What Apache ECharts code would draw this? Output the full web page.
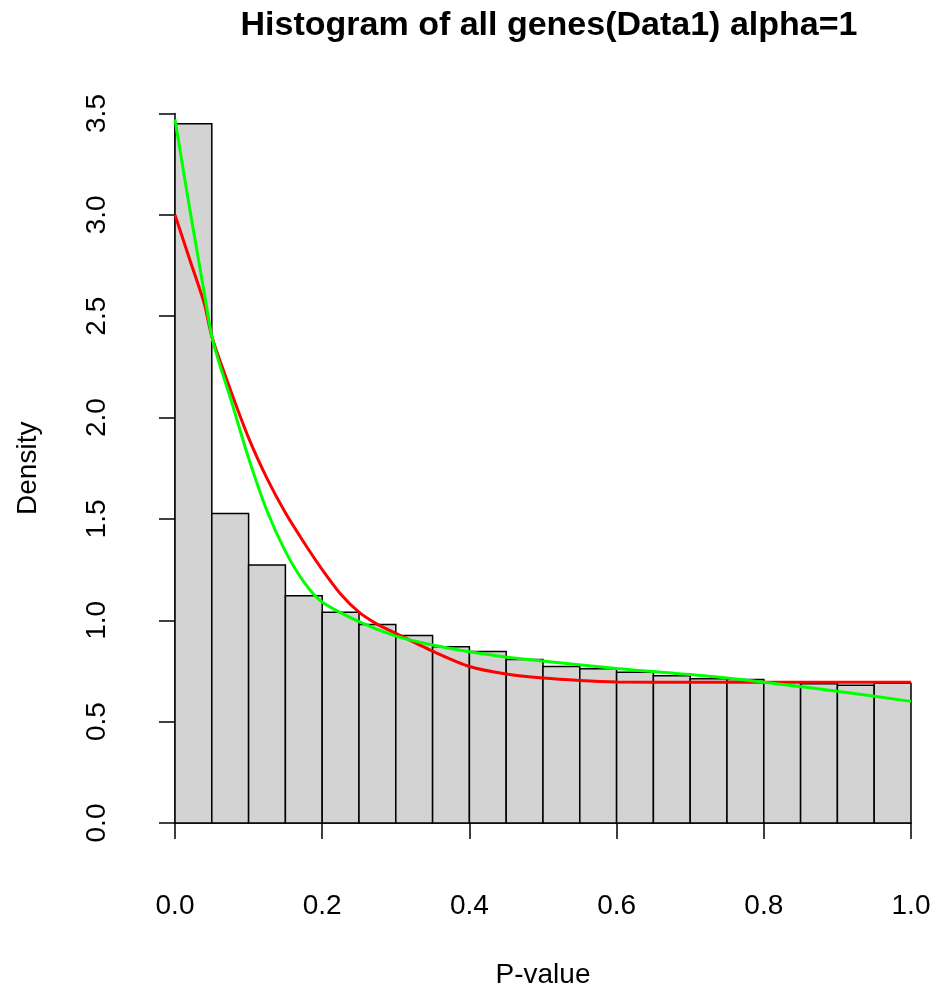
<!DOCTYPE html>
<html>
<head>
<meta charset="utf-8">
<script src="https://cdn.jsdelivr.net/npm/echarts@6/dist/echarts.min.js"></script>
<style>html,body{margin:0;padding:0;background:#fff}#c{width:936px;height:994px}</style>
</head>
<body>
<div id="c"></div>
<script>
const binLeft  = [0.00,0.05,0.10,0.15,0.20,0.25,0.30,0.35,0.40,0.45,0.50,0.55,0.60,0.65,0.70,0.75,0.80,0.85,0.90,0.95];
const binRight = [0.05,0.10,0.15,0.20,0.25,0.30,0.35,0.40,0.45,0.50,0.55,0.60,0.65,0.70,0.75,0.80,0.85,0.90,0.95,1.00];
const density  = [3.45,1.527,1.273,1.121,1.040,0.979,0.925,0.869,0.846,0.806,0.772,0.761,0.744,0.726,0.711,0.708,0.697,0.687,0.680,0.690];

const redX = [0,0.02,0.04,0.05,0.075,0.1,0.125,0.15,0.175,0.2,0.225,0.25,0.275,0.3,0.35,0.4,0.45,0.5,0.55,0.6,0.7,0.8,1.0];
const redY = [3.0,2.78,2.56,2.40,2.14,1.90,1.70,1.53,1.385,1.25,1.13,1.04,0.98,0.936,0.848,0.772,0.735,0.715,0.703,0.696,0.694,0.694,0.694];

const greenX = [0,0.02,0.04,0.05,0.06,0.075,0.1,0.125,0.15,0.175,0.2,0.25,0.3,0.35,0.4,0.47,0.6,0.74,0.876,1.0];
const greenY = [3.47,3.03,2.61,2.40,2.27,2.10,1.80,1.54,1.34,1.19,1.09,0.993,0.922,0.878,0.845,0.81,0.762,0.719,0.661,0.60];

const xTickInterval = 0.2;
const yTickInterval = 0.5;

const titleText = 'Histogram of all genes(Data1) alpha=1';
const xName = 'P-value';
const yName = 'Density';

const font = '"Liberation Sans", Arial, sans-serif';
const chart = echarts.init(document.getElementById('c'));

const bars = binLeft.map((l, i) => [l, binRight[i], density[i]]);
const red = redX.map((x, i) => [x, redY[i]]);
const green = greenX.map((x, i) => [x, greenY[i]]);

chart.setOption({
  animation: false,
  backgroundColor: '#ffffff',
  title: {
    text: titleText,
    left: 544, top: 4, textAlign: 'center',
    textStyle: {fontFamily: font, fontWeight: 'bold', fontSize: 34, color: '#000'}
  },
  grid: {left: 175, right: 25, top: 113.5, bottom: 169.5},
  xAxis: {
    type: 'value', min: 0, max: 1, interval: xTickInterval,
    offset: 28,
    name: xName, nameLocation: 'middle', nameGap: 110,
    nameTextStyle: {fontFamily: font, fontSize: 28, color: '#000'},
    axisLine: {show: true, lineStyle: {color: '#000', width: 1.5}},
    axisTick: {show: true, length: 16, lineStyle: {color: '#000', width: 1.5}},
    axisLabel: {margin: 41, fontFamily: font, fontSize: 28, color: '#000', formatter: v => v.toFixed(1)},
    splitLine: {show: false}
  },
  yAxis: {
    type: 'value', min: 0, max: 3.5, interval: yTickInterval,
    offset: 29,
    name: yName, nameLocation: 'middle', nameGap: 104,
    nameTextStyle: {fontFamily: font, fontSize: 28, color: '#000'},
    axisLine: {show: true, lineStyle: {color: '#000', width: 1.5}},
    axisTick: {show: true, length: 16, lineStyle: {color: '#000', width: 1.5}},
    axisLabel: {margin: 35, rotate: 90, fontFamily: font, fontSize: 28, color: '#000', formatter: v => v.toFixed(1)},
    splitLine: {show: false}
  },
  series: [
    {
      type: 'custom',
      data: bars,
      encode: {x: [0, 1], y: 2},
      renderItem: function (params, api) {
        const p0 = api.coord([api.value(0), api.value(2)]);
        const p1 = api.coord([api.value(1), 0]);
        return {
          type: 'rect',
          shape: {x: p0[0], y: p0[1], width: p1[0] - p0[0], height: p1[1] - p0[1]},
          style: {fill: '#D3D3D3', stroke: '#000', lineWidth: 1.5}
        };
      },
      z: 1
    },
    {
      type: 'line', data: red, smooth: 0.25, showSymbol: false,
      lineStyle: {color: '#FF0000', width: 3}, z: 3
    },
    {
      type: 'line', data: green, smooth: 0.25, showSymbol: false,
      lineStyle: {color: '#00FF00', width: 3}, z: 4
    }
  ]
});
</script>
</body>
</html>
